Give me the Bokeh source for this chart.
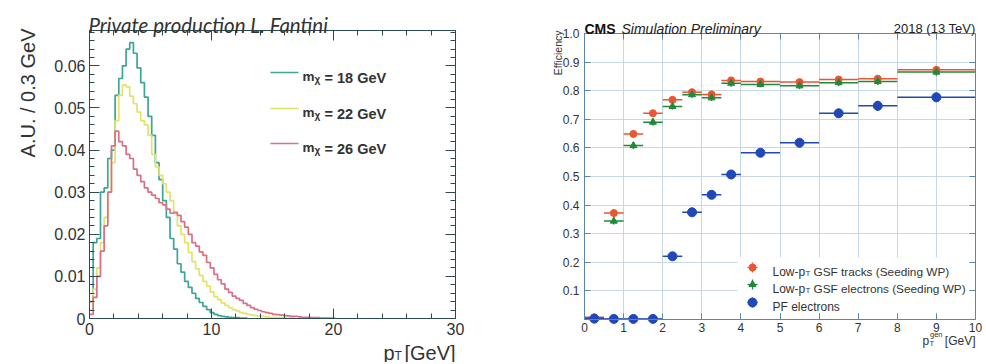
import math
import numpy as np
from bokeh.plotting import figure
from bokeh.layouts import row
from bokeh.models import (FixedTicker, LinearAxis, Label, Range1d,
                          CustomJSTickFormatter, BoxAnnotation)
from bokeh.embed import file_html
from bokeh.resources import INLINE

# ---------------- data: left panel (normalised pT spectra, 0.3 GeV bins)
BIN_WIDTH = 0.3
mass_labels = ["18", "22", "26"]
pt_mx18 = [0.004, 0.018, 0.019, 0.030, 0.031, 0.038, 0.040, 0.053, 0.057, 0.060,
           0.064, 0.0655, 0.063, 0.0595, 0.056, 0.0526, 0.048, 0.0435, 0.037, 0.033,
           0.028, 0.024, 0.019, 0.0165, 0.013, 0.011, 0.0088, 0.0074, 0.006, 0.0048,
           0.0038, 0.0029, 0.0021, 0.0014, 0.0010, 0.0007, 0.0005, 0.0004, 0.0003, 0.0002,
           0.0002, 0.0001, 0.0001]
pt_mx22 = [0.002, 0.007, 0.012, 0.018, 0.024, 0.030, 0.037, 0.047, 0.053, 0.0555,
           0.055, 0.0528, 0.051, 0.049, 0.047, 0.046, 0.0435, 0.039, 0.036, 0.034,
           0.032, 0.030, 0.028, 0.025, 0.022, 0.020, 0.018, 0.0157, 0.0135, 0.0118,
           0.0102, 0.0088, 0.0077, 0.0063, 0.0052, 0.0045, 0.0037, 0.0031, 0.0026, 0.0021,
           0.0018, 0.0014, 0.0012, 0.0010, 0.0008, 0.0007, 0.0006, 0.0005, 0.0004, 0.0003,
           0.0003, 0.0002, 0.0002, 0.0001, 0.0001, 0.0001]
pt_mx26 = [0.001, 0.005, 0.010, 0.016, 0.022, 0.030, 0.041, 0.0445, 0.042, 0.041,
           0.039, 0.038, 0.0355, 0.034, 0.0325, 0.031, 0.030, 0.0293, 0.0285, 0.0275,
           0.027, 0.026, 0.025, 0.0252, 0.0245, 0.023, 0.0217, 0.020, 0.018, 0.0172,
           0.0158, 0.015, 0.0133, 0.012, 0.0105, 0.0092, 0.0082, 0.007, 0.0062, 0.0053,
           0.0048, 0.0043, 0.0036, 0.0031, 0.0026, 0.0022, 0.0019, 0.0016, 0.0014, 0.0012,
           0.0010, 0.0009, 0.0008, 0.0007, 0.0006, 0.0005, 0.0005, 0.0004, 0.0003, 0.0003,
           0.0002, 0.0002, 0.0002, 0.0001, 0.0001, 0.0001, 0.0001]
left_x_ticks = [0, 10, 20, 30]
left_y_ticks = [0, 0.01, 0.02, 0.03, 0.04, 0.05, 0.06]

# ---------------- data: right panel (efficiency vs generated pT)
eff_bin_lo = [0, 0.5, 1, 1.5, 2, 2.5, 3, 3.5, 4, 5, 6, 7, 8]
eff_bin_hi = [0.5, 1, 1.5, 2, 2.5, 3, 3.5, 4, 5, 6, 7, 8, 10]
eff_gsf_tracks = [0.008, 0.372, 0.649, 0.721, 0.768, 0.795, 0.787, 0.836, 0.832, 0.830, 0.839, 0.842, 0.873]
eff_gsf_electrons = [0.005, 0.344, 0.608, 0.690, 0.745, 0.786, 0.775, 0.826, 0.822, 0.817, 0.828, 0.832, 0.865]
eff_pf_electrons = [0.003, 0.002, 0.002, 0.002, 0.221, 0.375, 0.436, 0.507, 0.583, 0.618, 0.721, 0.747, 0.777]
err_gsf_tracks = [0.004, 0.012, 0.012, 0.012, 0.011, 0.011, 0.011, 0.012, 0.010, 0.011, 0.012, 0.012, 0.013]
err_gsf_electrons = [0.004, 0.012, 0.012, 0.012, 0.011, 0.011, 0.011, 0.012, 0.010, 0.011, 0.012, 0.012, 0.013]
err_pf_electrons = [0.002, 0.002, 0.002, 0.002, 0.012, 0.012, 0.013, 0.014, 0.012, 0.016, 0.016, 0.018, 0.016]
right_x_ticks = list(range(0, 11))
right_y_ticks = [0.1, 0.2, 0.3, 0.4, 0.5, 0.6, 0.7, 0.8, 0.9, 1.0]
legend_labels = ["GSF tracks (Seeding WP)", "GSF electrons (Seeding WP)", "PF electrons"]

FONT = "Liberation Sans"
TXT = "#333333"

# ---------------- geometry (page px); each figure's frame fills its canvas
W_TOTAL, H_TOTAL = 984, 362
SPLIT = 480
LF_L, LF_R, LF_T, LF_B = 89, 455, 30, 318
Y1 = 0.0684
RF_L, RF_R, RF_T, RF_B = 584, 975, 33, 319


def lx(px):
    return (px - LF_L) / (LF_R - LF_L) * 30.0


def ly(py):
    return (LF_B - py) / (LF_B - LF_T) * Y1


def rx(px):
    return (px - RF_L) / (RF_R - RF_L) * 10.0


def ry(py):
    return (RF_B - py) / (RF_B - RF_T) * 1.0


def lbl(p, x, y, text, size, style="normal", color=TXT, align="left",
        baseline="alphabetic", angle=0.0, font=FONT):
    p.add_layout(Label(x=x, y=y, text=text, text_font=font,
                       text_font_size=f"{size}px", text_font_style=style,
                       text_color=color, text_align=align,
                       text_baseline=baseline, angle=angle))


def blank():
    return CustomJSTickFormatter(code="return ''")


def add_axis(p, side, loc, ticker, bounds, color, tin, tmin, fmt=None, size=12,
             standoff=4, line=True, level="guide"):
    ax = LinearAxis(fixed_location=loc, ticker=ticker, bounds=bounds,
                    formatter=fmt if fmt is not None else blank())
    ax.axis_line_color = color if line else None
    ax.major_tick_line_color = color
    ax.minor_tick_line_color = color if tmin > 0 else None
    ax.major_tick_in = tin
    ax.major_tick_out = 0
    ax.minor_tick_in = tmin
    ax.minor_tick_out = 0
    ax.major_label_text_font = FONT
    ax.major_label_text_font_size = f"{size}px"
    ax.major_label_text_color = TXT
    ax.major_label_standoff = standoff
    ax.level = level
    p.add_layout(ax, side)
    return ax


def make_fig(width, xr, yr):
    p = figure(width=width, height=H_TOTAL, x_range=Range1d(*xr), y_range=Range1d(*yr),
               output_backend="svg", toolbar_location=None, title=None,
               x_axis_location=None, y_axis_location=None, min_border=0)
    p.grid.visible = False
    p.outline_line_color = None
    p.background_fill_color = "white"
    p.border_fill_color = "white"
    return p


# ================= LEFT PANEL
LFRAME = "#2c4a50"
p1 = make_fig(SPLIT, (lx(0), lx(SPLIT)), (ly(H_TOTAL), ly(0)))

xt_l = FixedTicker(ticks=left_x_ticks, minor_ticks=list(range(0, 31, 2)))
yt_l = FixedTicker(ticks=left_y_ticks, minor_ticks=[round(i * 0.002, 3) for i in range(35)])
fmt_y_l = CustomJSTickFormatter(code="return tick < 1e-9 ? '0' : tick.toFixed(2)")
fmt_x_l = CustomJSTickFormatter(code="return tick.toFixed(0)")
add_axis(p1, "below", 0, xt_l, (0, 30), LFRAME, 10, 5, fmt=fmt_x_l, size=16, standoff=4)
add_axis(p1, "left", 0, yt_l, (0, Y1), LFRAME, 10, 5, fmt=fmt_y_l, size=16, standoff=4)
add_axis(p1, "above", Y1, xt_l, (0, 30), LFRAME, 10, 5)
add_axis(p1, "right", 30, yt_l, (0, Y1), LFRAME, 10, 5)

hist_colors = ["#3ba596", "#e2e36a", "#db6f85"]
for vals, col in zip([pt_mx18, pt_mx22, pt_mx26], hist_colors):
    edges = np.arange(len(vals) + 1) * BIN_WIDTH
    ys = list(vals) + [0.0]
    p1.step(edges, ys, mode="after", line_color=col, line_width=1.7)

# legend (left)
for py, col, m in zip([72, 108, 143], hist_colors, mass_labels):
    p1.segment(x0=[lx(270)], x1=[lx(298)], y0=[ly(py)], y1=[ly(py)], line_color=col, line_width=1.7)
    lbl(p1, lx(302), ly(py + 4), "m", 13.5, style="bold")
    lbl(p1, lx(314), ly(py + 7), "\u03c7", 10, style="bold")
    lbl(p1, lx(324), ly(py + 5), f"= {m} GeV", 14.5, style="bold")

lbl(p1, lx(88), ly(24), "Private production L. Fantini", 20.5, style="italic", font="Lato")
lbl(p1, lx(27), ly(28), "A.U. / 0.3 GeV", 20, align="right", angle=math.pi / 2)
lbl(p1, lx(383), ly(352), "p", 20)
lbl(p1, lx(394), ly(355), "T", 12)
lbl(p1, lx(404), ly(352), "[GeV]", 20)

# ================= RIGHT PANEL
RFRAME = "#5b86a6"
GRID = "#c6d8e6"
p2 = make_fig(W_TOTAL - SPLIT, (rx(SPLIT), rx(W_TOTAL)), (ry(H_TOTAL), ry(0)))

xt_r = FixedTicker(ticks=right_x_ticks)
yt_r = FixedTicker(ticks=right_y_ticks)
# grid lines drawn as full-length axis ticks
add_axis(p2, "below", 0, xt_r, (0, 10), GRID, RF_B - RF_T, 0, line=False, level="underlay")
add_axis(p2, "left", 0, yt_r, (0, 1), GRID, RF_R - RF_L, 0, line=False, level="underlay")

# legend background box hiding grid lines
p2.add_layout(BoxAnnotation(left=rx(737), right=rx(974), top=ry(257), bottom=ry(312),
                            fill_color="white", fill_alpha=1.0, line_color=None,
                            level="underlay"))

fmt_x_r = CustomJSTickFormatter(code="return tick.toFixed(0)")
fmt_y_r = CustomJSTickFormatter(code="return tick.toFixed(1)")
add_axis(p2, "below", 0, xt_r, (0, 10), RFRAME, 6, 0, fmt=fmt_x_r, size=12, standoff=3)
add_axis(p2, "left", 0, yt_r, (0, 1), RFRAME, 6, 0, fmt=fmt_y_r, size=12, standoff=5)
add_axis(p2, "above", 1, xt_r, (0, 10), RFRAME, 6, 0)
add_axis(p2, "right", 10, yt_r, (0, 1), RFRAME, 6, 0)

centers = [(a + b) / 2 for a, b in zip(eff_bin_lo, eff_bin_hi)]
series = [
    (eff_gsf_tracks, err_gsf_tracks, "#ec5533", "circle", 7),
    (eff_gsf_electrons, err_gsf_electrons, "#1f8a3a", "triangle", 7),
    (eff_pf_electrons, err_pf_electrons, "#2148b8", "circle", 9),
]
for vals, errs, col, mk, sz in series:
    p2.segment(x0=eff_bin_lo, x1=eff_bin_hi, y0=vals, y1=vals, line_color=col, line_width=1.5)
    lo = [v - e for v, e in zip(vals, errs)]
    hi = [v + e for v, e in zip(vals, errs)]
    p2.segment(x0=centers, x1=centers, y0=lo, y1=hi, line_color=col, line_width=1.5)
    p2.scatter(x=centers, y=vals, marker=mk, size=sz, fill_color=col, line_color=col)

# legend (right)
for py, (vals, errs, col, mk, sz), text in zip([267, 284, 302], series, legend_labels):
    p2.segment(x0=[rx(747)], x1=[rx(757)], y0=[ry(py)], y1=[ry(py)], line_color=col, line_width=1.3)
    p2.segment(x0=[rx(752)], x1=[rx(752)], y0=[ry(py - 5)], y1=[ry(py + 5)], line_color=col, line_width=1.3)
    p2.scatter(x=[rx(752)], y=[ry(py)], marker=mk, size=sz, fill_color=col, line_color=col)
    if text.startswith("PF"):
        lbl(p2, rx(772), ry(py + 4), text, 12)
    else:
        lbl(p2, rx(772), ry(py + 4), "Low-p", 12)
        lbl(p2, rx(805), ry(py + 6), "T", 8)
        lbl(p2, rx(813), ry(py + 4), text, 11.8)

lbl(p2, rx(584), ry(28), "CMS", 14, style="bold", color="#111111")
lbl(p2, rx(621), ry(28), "Simulation Preliminary", 14, style="italic", color="#222222")
lbl(p2, rx(975), ry(28), "2018 (13 TeV)", 13, align="right", color="#222222")
lbl(p2, rx(557), ry(30), "Efficiency", 10.5, align="right", angle=math.pi / 2)
lbl(p2, rx(922), ry(340), "p", 12)
lbl(p2, rx(929), ry(343), "T", 7.5)
lbl(p2, rx(929.5), ry(334), "gen", 7.5)
lbl(p2, rx(975), ry(340), "[GeV]", 12, align="right")

layout = row(p1, p2, spacing=0)
open("out.html", "w").write(file_html(layout, INLINE))
